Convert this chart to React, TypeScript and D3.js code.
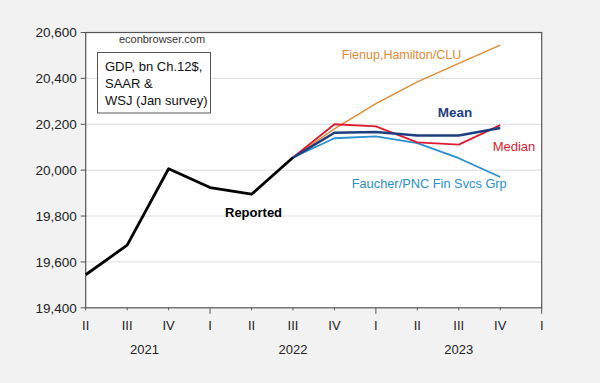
import React from "react";
import * as d3 from "d3";

const quarterLabels = ["II", "III", "IV", "I", "II", "III", "IV", "I", "II", "III", "IV", "I"];
const yearStarts = [3, 7, 11];
const yearLabels = ["2021", "2022", "2023"];
const yearCenters = [1.42, 5, 9];
const yTicks = [19400, 19600, 19800, 20000, 20200, 20400, 20600];

const reportedIdx = [0, 1, 2, 3, 4, 5];
const reported = [19544, 19673, 20006, 19924, 19895, 20055];

const fcstIdx = [5, 6, 7, 8, 9, 10];
const fienup = [20055, 20180, 20290, 20385, 20465, 20545];
const meanF = [20055, 20163, 20166, 20151, 20151, 20184];
const medianF = [20055, 20200, 20191, 20121, 20111, 20196];
const faucher = [20055, 20139, 20147, 20118, 20052, 19970];

const FONT = "'Liberation Sans', Arial, sans-serif";

export default function App() {
  const W = 600, H = 383;
  const left = 85.7, right = 541.7, top = 32.5, bottom = 307.8;
  const x = d3.scaleLinear().domain([0, 11]).range([left, right]);
  const y = d3.scaleLinear().domain([19400, 20600]).range([bottom, top]);
  const line = d3.line<[number, number]>().x(d => x(d[0])).y(d => y(d[1]));
  const pts = (idx: number[], vals: number[]) => idx.map((i, k) => [i, vals[k]] as [number, number]);

  const series = [
    { vals: fienup, color: "#e08a35", w: 1.4 },
    { vals: faucher, color: "#2b8fcf", w: 1.8 },
    { vals: medianF, color: "#e01b2f", w: 1.8 },
    { vals: meanF, color: "#1d3f80", w: 2.6 },
  ];

  return (
    <svg width={W} height={H} style={{ position: "absolute", left: 0, top: 0 }} fontFamily={FONT}>
      <rect x={0} y={0} width={W} height={H} fill="#f2f2f2" />
      <rect x={left} y={top} width={right - left} height={bottom - top} fill="#ffffff" />
      {yTicks.slice(1, -1).map(v => (
        <line key={v} x1={left} x2={right} y1={y(v)} y2={y(v)} stroke="#dcdcdc" strokeWidth={1} />
      ))}
      {/* frame */}
      <rect x={left} y={top} width={right - left} height={bottom - top} fill="none" stroke="#555" strokeWidth={1.2} />
      {/* y ticks */}
      {yTicks.map(v => (
        <g key={v}>
          <line x1={left - 5} x2={left} y1={y(v)} y2={y(v)} stroke="#555" strokeWidth={1} />
          <text x={left - 9} y={y(v)} dy="0.35em" textAnchor="end" fontSize={13.5} fill="#222">
            {d3.format(",")(v)}
          </text>
        </g>
      ))}
      {/* x ticks */}
      {quarterLabels.map((q, i) => {
        const isYear = yearStarts.includes(i);
        return (
          <g key={i}>
            <line x1={x(i)} x2={x(i)} y1={bottom} y2={bottom + (isYear ? 6 : 2.5)} stroke="#555" strokeWidth={1} />
            <text x={x(i)} y={325} dy="0.35em" textAnchor="middle" fontSize={13} fill="#222">{q}</text>
          </g>
        );
      })}
      {yearLabels.map((yl, i) => (
        <text key={yl} x={x(yearCenters[i])} y={349.3} dy="0.35em" textAnchor="middle" fontSize={13} fill="#222">{yl}</text>
      ))}

      {/* forecast lines */}
      {series.map((s, i) => (
        <path key={i} d={line(pts(fcstIdx, s.vals)) || ""} fill="none" stroke={s.color} strokeWidth={s.w} strokeLinejoin="round" />
      ))}
      <path d={line(pts(reportedIdx, reported)) || ""} fill="none" stroke="#000" strokeWidth={2.8} strokeLinejoin="round" />

      {/* annotations */}
      <text x={162} y={39} dy="0.35em" textAnchor="middle" fontSize={11} fill="#333">econbrowser.com</text>
      <rect x={97.5} y={52.5} width={113} height={60.5} fill="#fff" stroke="#555" strokeWidth={1} />
      <text x={105} y={66.7} dy="0.35em" fontSize={13} fill="#111">GDP, bn Ch.12$,</text>
      <text x={105} y={83.7} dy="0.35em" fontSize={13} fill="#111">SAAR &amp;</text>
      <text x={105} y={100.7} dy="0.35em" fontSize={13} fill="#111">WSJ (Jan survey)</text>

      <text x={341.7} y={54.3} dy="0.35em" fontSize={12.5} fill="#e08a35">Fienup,Hamilton/CLU</text>
      <text x={437.7} y={112.7} dy="0.35em" fontSize={13.5} fontWeight="bold" fill="#1d3f80">Mean</text>
      <text x={492.7} y={146.7} dy="0.35em" fontSize={13} fill="#e01b2f">Median</text>
      <text x={351.7} y={183.3} dy="0.35em" fontSize={12.8} fill="#2b8fcf">Faucher/PNC Fin Svcs Grp</text>
      <text x={225} y={212.7} dy="0.35em" fontSize={13} fontWeight="bold" fill="#000">Reported</text>
    </svg>
  );
}
